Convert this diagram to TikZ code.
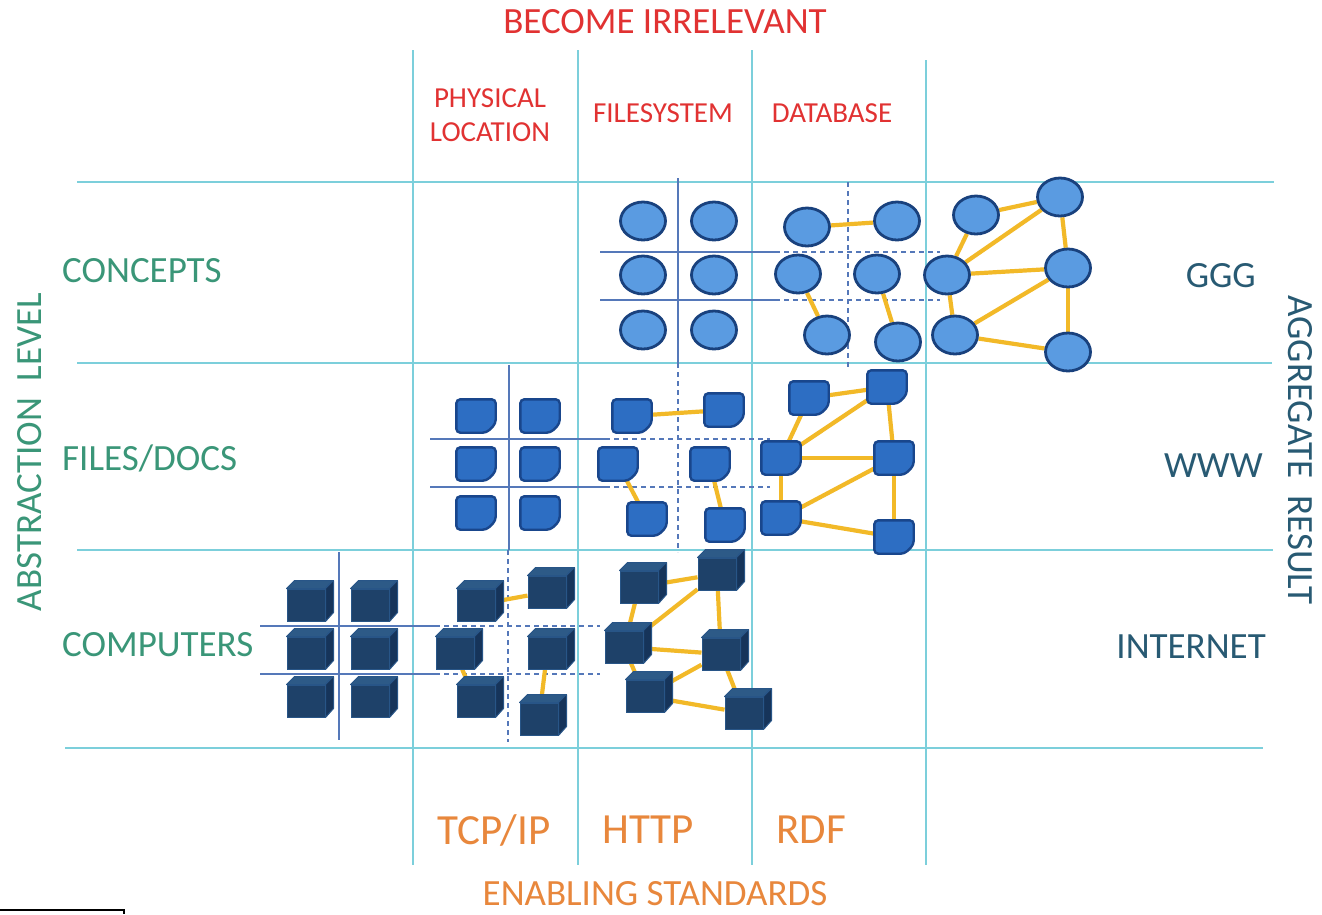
\documentclass[tikz,border=0pt]{standalone}
\usepackage{fontspec}
\setmainfont{Carlito}
\usetikzlibrary{shapes.geometric}
\pgfdeclarelayer{bg}\pgfdeclarelayer{mid}\pgfsetlayers{bg,mid,main}
\definecolor{gridc}{RGB}{124,207,219}
\definecolor{innerc}{RGB}{85,120,185}
\definecolor{greenc}{RGB}{58,150,120}
\definecolor{bluelab}{RGB}{40,90,115}
\definecolor{redc}{RGB}{225,50,50}
\definecolor{orangec}{RGB}{232,135,60}
\definecolor{cfill}{RGB}{90,155,225}
\definecolor{cborder}{RGB}{25,65,125}
\definecolor{docfill}{RGB}{45,110,195}
\definecolor{docedge}{RGB}{25,70,140}
\definecolor{cubefront}{RGB}{30,65,105}
\definecolor{cubetop}{RGB}{45,90,135}
\definecolor{cubeside}{RGB}{22,52,90}
\definecolor{cubeedge}{RGB}{40,85,135}
\definecolor{linkc}{RGB}{242,185,40}
\tikzset{
  conc/.style={ellipse, draw=cborder, fill=cfill, line width=2.8pt, minimum width=45pt, minimum height=38pt, inner sep=0pt},
  docbox/.style={rectangle, minimum width=39pt, minimum height=33pt, inner sep=0pt},
  docshape/.style={fill=docfill, draw=docedge, line width=2.4pt, rounded corners=4pt},
  cubebox/.style={rectangle, minimum width=38pt, minimum height=32pt, inner sep=0pt, fill=cubefront, draw=cubeedge, line width=1pt},
  cubetopst/.style={fill=cubetop, draw=cubeedge, line width=1pt, line join=round},
  cubesidest/.style={fill=cubeside, draw=cubeedge, line width=1pt, line join=round},
  link/.style={draw=linkc, line width=4.2pt},
  gridl/.style={draw=gridc, line width=1.8pt},
  innerl/.style={draw=innerc, line width=1.4pt},
  innerd/.style={innerl, dash pattern=on 5pt off 4pt},
  lab/.style={inner sep=0pt, font=\fontsize{37}{44}\selectfont},
  biglab/.style={inner sep=0pt, font=\fontsize{43}{50}\selectfont},
  smlab/.style={inner sep=0pt, font=\fontsize{29}{34}\selectfont},
}
\newcommand\Doc[3]{\node[docbox] (#1) at (#2,#3) {};
  \draw[docshape] (#1.north west) -- (#1.north east) -- ([yshift=9pt]#1.south east) -- ([xshift=-9pt]#1.south east) -- (#1.south west) -- cycle;}
\newcommand\Cube[3]{\node[cubebox] (#1) at (#2-4,#3+4) {};
  \filldraw[cubetopst] (#1.north west) -- ++(8,-8) -- ++(38,0) -- (#1.north east) -- cycle;
  \filldraw[cubesidest] (#1.north east) -- ++(8,-8) -- ++(0,32) -- (#1.south east) -- cycle;}
\begin{document}
\begin{tikzpicture}[x=1pt,y=-1pt]
\useasboundingbox (0,0) rectangle (1322,914);
\begin{pgfonlayer}{bg}
\fill[white] (0,0) rectangle (1322,914);
% main grid
\draw[gridl] (77,182) -- (1274,182);
\draw[gridl] (77,363) -- (1272,363);
\draw[gridl] (77,550) -- (1273,550);
\draw[gridl] (65,748) -- (1263,748);
\draw[gridl] (413,50) -- (413,865);
\draw[gridl] (578,50) -- (578,865);
\draw[gridl] (752,50) -- (752,865);
\draw[gridl] (926,60) -- (926,865);
% inner grids: concepts
\draw[innerl] (678,178) -- (678,368);
\draw[innerl] (600,252) -- (775,252);
\draw[innerl] (600,300) -- (775,300);
\draw[innerd] (775,252) -- (940,252);
\draw[innerd] (775,300) -- (940,300);
\draw[innerd] (848,182) -- (848,368);
% docs
\draw[innerl] (509,365) -- (509,550);
\draw[innerl] (430,439) -- (605,439);
\draw[innerl] (430,487) -- (605,487);
\draw[innerd] (605,439) -- (770,439);
\draw[innerd] (605,487) -- (770,487);
\draw[innerd] (678,363) -- (678,552);
% computers
\draw[innerl] (339,552) -- (339,740);
\draw[innerl] (260,626) -- (435,626);
\draw[innerl] (260,674) -- (435,674);
\draw[innerd] (435,626) -- (600,626);
\draw[innerd] (435,674) -- (600,674);
\draw[innerd] (508,550) -- (508,742);
\end{pgfonlayer}
% concepts
\foreach \n/\x/\y in {ca1/643/221,ca2/714/221,ca3/643/275,ca4/714/275,ca5/643/330,ca6/714/330,
  cb1/807/227,cb2/897/221,cb3/798/274,cb4/877/274,cb5/827/335,cb6/898/342,
  cc1/976/215,cc2/1060/197,cc3/947/275,cc4/1068/268,cc5/955/335,cc6/1068/352}
  \node[conc] (\n) at (\x,\y) {};
% documents
\Doc{da1}{476}{416}\Doc{da2}{540}{416}\Doc{da3}{476}{464}\Doc{da4}{540}{464}\Doc{da5}{476}{513}\Doc{da6}{540}{513}
\Doc{db1}{632}{416}\Doc{db2}{724}{410}\Doc{db3}{618}{464}\Doc{db4}{710}{464}\Doc{db5}{647}{519}\Doc{db6}{725}{525}
\Doc{dc1}{809}{398}\Doc{dc2}{887}{387}\Doc{dc3}{781}{458}\Doc{dc4}{894}{458}\Doc{dc5}{781}{518}\Doc{dc6}{894}{537}
% computers
\Cube{pa1}{310}{601}\Cube{pa2}{374}{601}\Cube{pa3}{310}{649}\Cube{pa4}{374}{649}\Cube{pa5}{310}{697}\Cube{pa6}{374}{697}
\Cube{pb1}{480}{601}\Cube{pb2}{551}{588}\Cube{pb3}{459}{649}\Cube{pb4}{551}{649}\Cube{pb5}{480}{697}\Cube{pb6}{543}{715}
\Cube{pc1}{643}{583}\Cube{pc2}{721}{570}\Cube{pc3}{628}{643}\Cube{pc4}{725}{650}\Cube{pc5}{649}{692}\Cube{pc6}{748}{709}
\begin{pgfonlayer}{mid}
\foreach \p in {c,d,p}{
  \draw[link] (\p b1) -- (\p b2);
  \draw[link] (\p b3) -- (\p b5);
  \draw[link] (\p b4) -- (\p b6);
  \foreach \a/\b in {1/2,1/3,3/2,3/4,2/4,3/5,5/4,5/6,4/6}
    \draw[link] (\p c\a) -- (\p c\b);
}
\end{pgfonlayer}
% labels
\node[lab, text=redc] (t1) at (665,22) {BECOME IRRELEVANT};
\node[smlab, text=redc, align=center] (t2) at (490,115) {PHYSICAL\\LOCATION};
\node[smlab, text=redc] (t3) at (663,113) {FILESYSTEM};
\node[smlab, text=redc] (t4) at (832,113) {DATABASE};
\node[lab, text=greenc, anchor=west] (l1) at (62,271) {CONCEPTS};
\node[lab, text=greenc, anchor=west] (l2) at (62,458) {FILES/DOCS};
\node[lab, text=greenc, anchor=west] (l3) at (62,645) {COMPUTERS};
\node[lab, text=greenc, rotate=90] (l4) at (30,452) {ABSTRACTION~ LEVEL};
\node[lab, text=bluelab, anchor=east] (r1) at (1256,276) {GGG};
\node[lab, text=bluelab, anchor=east] (r2) at (1263,466) {WWW};
\node[lab, text=bluelab, anchor=east] (r3) at (1266,647) {INTERNET};
\node[lab, text=bluelab, rotate=-90] (r4) at (1300,450) {AGGREGATE~ RESULT};
\node[biglab, text=orangec] (b1) at (494,830) {TCP/IP};
\node[biglab, text=orangec] (b2) at (648,830) {HTTP};
\node[biglab, text=orangec] (b3) at (811,830) {RDF};
\node[lab, text=orangec] (b4) at (655,894) {ENABLING STANDARDS};
\draw[black, line width=1.5pt] (0,910) -- (124,910) -- (124,914);
\end{tikzpicture}
\end{document}
